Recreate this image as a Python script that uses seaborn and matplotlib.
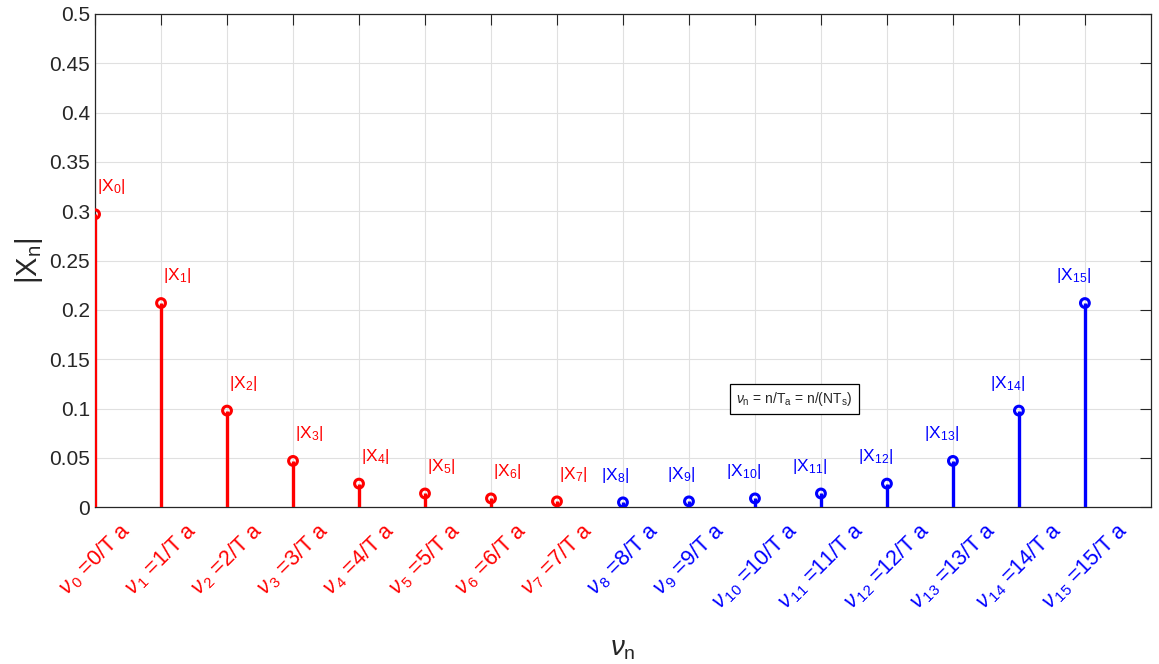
import numpy as np
import pandas as pd
import matplotlib
matplotlib.use('Agg')
import matplotlib.pyplot as plt
import seaborn as sns

# magnitudes |X_n|
n_idx = list(range(16))
mag = [0.297, 0.207, 0.098, 0.047, 0.024, 0.014, 0.009, 0.006,
       0.005, 0.006, 0.009, 0.014, 0.024, 0.047, 0.098, 0.207]
colors = ['red'] * 8 + ['blue'] * 8
tick_labels = [r'$\nu_{\,%d}$ =%d/T a' % (k, k) for k in n_idx]
peak_labels = [r'$|\mathrm{X}_{%d}|$' % k for k in n_idx]

df = pd.DataFrame({'n': n_idx, 'mag': mag, 'half': ['lo'] * 8 + ['hi'] * 8})

sns.set_style("whitegrid")
plt.rcParams['font.family'] = ['Liberation Sans', 'DejaVu Sans']
plt.rcParams['mathtext.fontset'] = 'custom'
plt.rcParams['mathtext.rm'] = 'Liberation Sans'
plt.rcParams['mathtext.it'] = 'Liberation Sans:italic'
plt.rcParams['mathtext.bf'] = 'Liberation Sans:bold'

fig = plt.figure(figsize=(11.59, 6.64), dpi=100)
ax = fig.add_axes([0.082, 0.236, 0.911, 0.743])

ax.vlines(df['n'], 0, df['mag'], colors=colors, linewidth=2.4, zorder=3)
sns.scatterplot(data=df, x='n', y='mag', hue='half', palette={'lo': 'red', 'hi': 'blue'},
                marker='o', s=40, linewidth=2.2, legend=False, ax=ax, zorder=4)
# seaborn fills markers; make them open circles in the stem colour
for coll in ax.collections[1:]:
    ec = coll.get_facecolors()
    coll.set_edgecolors(ec)
    coll.set_facecolors('none')

for k in n_idx:
    if k < 8:
        ax.text(k + 0.03, mag[k] + 0.018, peak_labels[k], color='red', fontsize=12.5,
                ha='left', va='bottom')
    else:
        ax.text(k + 0.1, mag[k] + 0.018, peak_labels[k], color='blue', fontsize=12.5,
                ha='right', va='bottom')

ax.text(9.72, 0.11, r'$\nu_{\mathrm{n}}$ = n/T$_{\mathrm{a}}$ = n/(NT$_{\mathrm{s}}$)',
        fontsize=10, ha='left', va='center',
        bbox=dict(boxstyle='square,pad=0.45', facecolor='white', edgecolor='black', linewidth=0.9))

ax.set_xlim(0, 16)
ax.set_ylim(0, 0.5)
ax.set_xticks(n_idx)
ax.set_xticklabels(tick_labels, rotation=45, ha='center', va='top', fontsize=15.5)
for lbl, c in zip(ax.get_xticklabels(), colors):
    lbl.set_color(c)
ax.set_yticks(np.arange(0, 0.51, 0.05))
ax.set_yticklabels(['0', '0.05', '0.1', '0.15', '0.2', '0.25', '0.3', '0.35', '0.4', '0.45', '0.5'])
ax.tick_params(axis='y', labelsize=15, colors='#262626')
ax.tick_params(axis='both', direction='in', length=8, width=0.8, top=True, right=True,
               color='#262626')
ax.tick_params(axis='x', pad=8)

ax.grid(True, color='#e0e0e0', linewidth=0.8)
for sp in ax.spines.values():
    sp.set_color('#262626')
    sp.set_linewidth(0.9)

ax.set_ylabel(r'|X$_{\mathrm{n}}$|', fontsize=21, color='#262626', labelpad=3)
ax.set_xlabel(r'$\nu_{\mathrm{n}}$', fontsize=20, color='#262626', labelpad=16)

fig.savefig('out.png', dpi=100)
